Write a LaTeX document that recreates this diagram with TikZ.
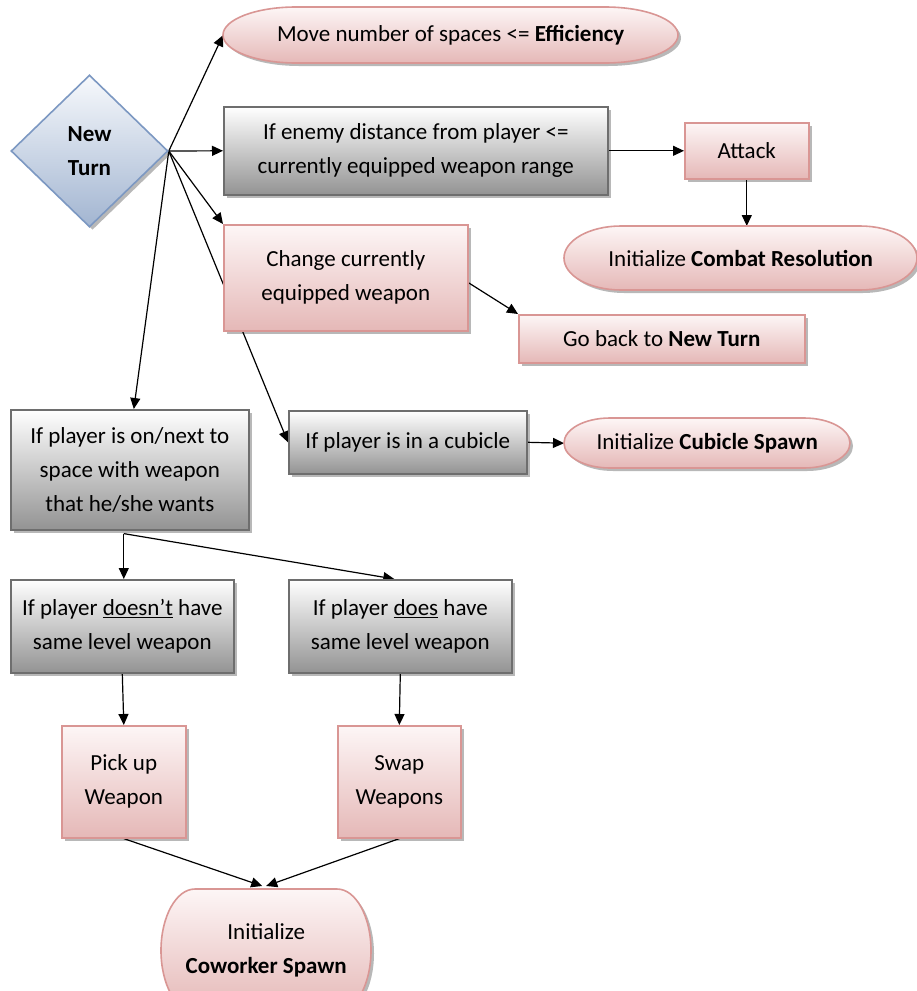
\documentclass[tikz,border=0pt]{standalone}
\usepackage{fontspec}
\setmainfont{Carlito}
\usetikzlibrary{shapes.geometric,shadows,arrows.meta,calc}
\pgfdeclarelayer{back}
\pgfdeclarelayer{bg}
\pgfsetlayers{back,bg,main}
\definecolor{pinkTop}{HTML}{FDF6F6}
\definecolor{pinkBot}{HTML}{E5B8B7}
\definecolor{pinkLine}{HTML}{D99694}
\definecolor{grayTop}{HTML}{FFFFFF}
\definecolor{grayBot}{HTML}{939393}
\definecolor{grayLine}{HTML}{6E6E6E}
\definecolor{blueTop}{HTML}{F7F9FC}
\definecolor{blueBot}{HTML}{A2B5D1}
\definecolor{blueLine}{HTML}{7C98C2}
\tikzset{
  shad/.style={drop shadow={shadow xshift=3pt,shadow yshift=-3pt,fill=black,opacity=.28}},
  pinkbox/.style={rectangle,draw=pinkLine,line width=1.6pt,top color=pinkTop,bottom color=pinkBot,shad,anchor=north west},
  graybox/.style={rectangle,draw=grayLine,line width=1.6pt,top color=grayTop,bottom color=grayBot,shad,anchor=north west},
  termfill/.style={draw=pinkLine,line width=1.6pt,top color=pinkTop,bottom color=pinkBot,shad},
  termtext/.style={rectangle,anchor=north west},
  arr/.style={draw=black,line width=1.2pt,-{Triangle[length=11pt,width=10pt]}}
}
\newcommand\termshape[6]{\path[termfill] ({#1+#5},#2) -- ({#3-#5},#2)
  arc[start angle=90,end angle=-90,x radius=#5pt,y radius=#6pt] -- ({#1+#5},#4)
  arc[start angle=270,end angle=90,x radius=#5pt,y radius=#6pt] -- cycle;}
\begin{document}
\begin{tikzpicture}[x=1pt,y=-1pt,every node/.style={font=\fontsize{23}{34}\selectfont,align=center,inner sep=0pt}]
\useasboundingbox (0,0) rectangle (917,991);
\begin{pgfonlayer}{back}
\fill[white] (0,0) rectangle (917,991);
\end{pgfonlayer}

% diamond
\node[diamond,draw=blueLine,line width=1.6pt,top color=blueTop,bottom color=blueBot,shad,
      minimum width=157pt,minimum height=152pt] (nt) at (89.5,151) {\textbf{New}\\\textbf{Turn}};

% terminators
\termshape{223}{7}{678}{63}{73}{28}
\node[termtext,minimum width=455pt,minimum height=56pt] (move) at (223,7) {Move number of spaces <= \textbf{Efficiency}};

\node[graybox,minimum width=384pt,minimum height=88pt] (enemy) at (223,106) {If enemy distance from player <=\\currently equipped weapon range};
\node[pinkbox,minimum width=124pt,minimum height=56pt] (attack) at (684,122) {Attack};

\termshape{564}{226}{917}{290}{57}{32}
\node[termtext,minimum width=353pt,minimum height=64pt] (combat) at (564,226) {Initialize \textbf{Combat Resolution}};

\node[pinkbox,minimum width=244pt,minimum height=106pt] (change) at (223,224) {Change currently\\equipped weapon};
\node[pinkbox,minimum width=286pt,minimum height=48pt] (goback) at (518,314) {Go back to \textbf{New Turn}};

\node[graybox,minimum width=238pt,minimum height=63pt] (cub) at (288,410) {If player is in a cubicle};
\termshape{564}{418}{850}{468}{46}{25}
\node[termtext,minimum width=286pt,minimum height=50pt] (cubsp) at (564,418) {Initialize \textbf{Cubicle Spawn}};

\node[graybox,minimum width=238pt,minimum height=120pt] (onnext) at (10,409) {If player is on/next to\\space with weapon\\that he/she wants};
\node[graybox,minimum width=223pt,minimum height=93pt] (doesnt) at (10,579) {If player \underline{doesn’t} have\\same level weapon};
\node[graybox,minimum width=223pt,minimum height=93pt] (does) at (288,579) {If player \underline{does} have\\same level weapon};

\node[pinkbox,minimum width=124pt,minimum height=112pt] (pickup) at (61,725) {Pick up\\Weapon};
\node[pinkbox,minimum width=123pt,minimum height=112pt] (swap) at (337,725) {Swap\\Weapons};

\termshape{161}{889}{371}{1012}{34}{61.5}
\node[termtext,minimum width=210pt,minimum height=123pt] (cow) at (161,889) {Initialize\\\textbf{Coworker Spawn}};

\begin{pgfonlayer}{bg}
\draw[arr] (nt.east) -- (move.west);
\draw[arr] (nt.east) -- (enemy.west);
\draw[arr] (nt.east) -- (change.north west);
\draw[arr] (nt.east) -- (cub.west);
\draw[arr] (nt.east) -- ($(onnext.north)+(4,0)$);
\draw[arr] (enemy.east) -- (attack.west);
\draw[arr] (attack.south) -- (attack.south |- combat.north);
\draw[arr] ($(change.east)+(0,5)$) -- (goback.north west);
\draw[arr] (cub.east) -- (cubsp.west);
\coordinate (split) at ($(doesnt.north |- onnext.south)+(1.5,3)$);
\draw[arr] (split) -- (split |- doesnt.north);
\draw[arr] (split) -- ($(does.north)+(-6,0)$);
\draw[arr] (doesnt.south) -- (pickup.north);
\draw[arr] (does.south) -- (swap.north);
\draw[arr] (pickup.south) -- ($(cow.north)+(-4,-3)$);
\draw[arr] (swap.south) -- ($(cow.north)+(0,-3)$);
\end{pgfonlayer}
\end{tikzpicture}
\end{document}
